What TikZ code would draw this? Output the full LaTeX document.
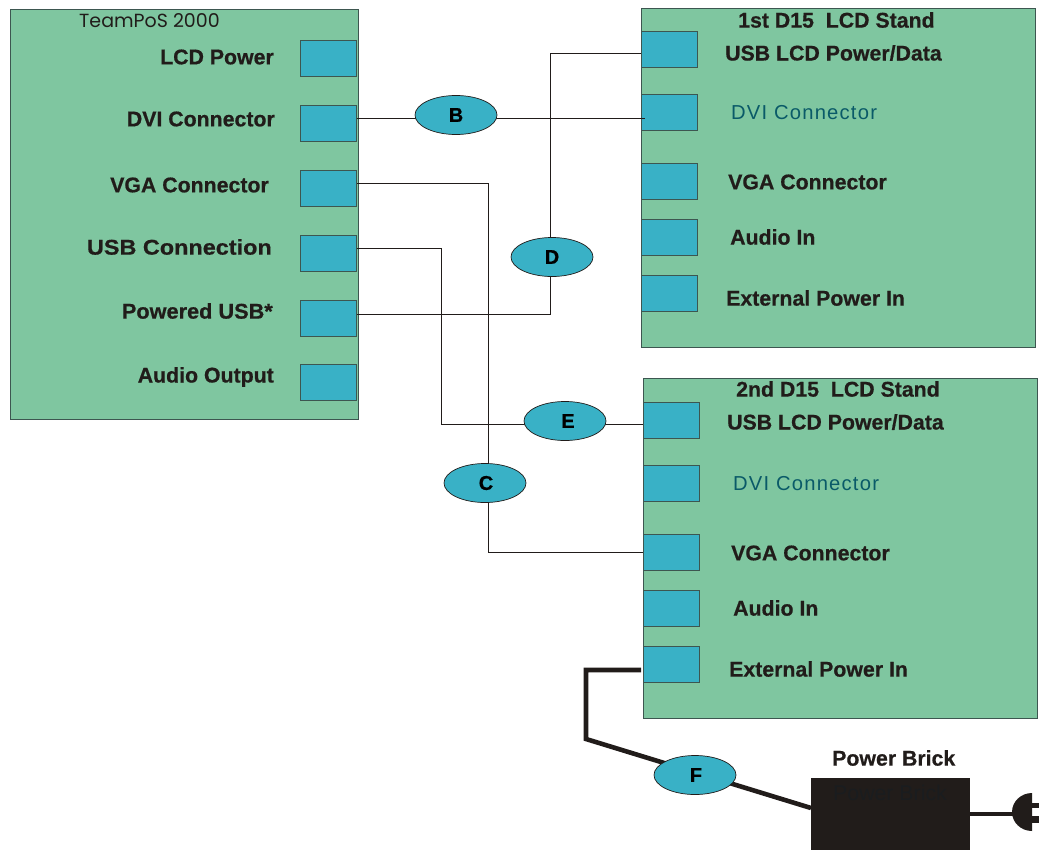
\documentclass[tikz,border=0pt]{standalone}
\usepackage{fontspec}
\setmainfont{Liberation Sans}[BoldFeatures={FakeBold=0.6}]
\newfontfamily\geofont{Poppins}
\newfontfamily\spaced[LetterSpace=6]{Liberation Sans}
\usetikzlibrary{shapes.geometric,calc}
\definecolor{panelgreen}{HTML}{7FC6A0}
\definecolor{portblue}{HTML}{39B1C6}
\definecolor{edgegrey}{HTML}{3D5650}
\definecolor{inkblack}{HTML}{211C1A}
\definecolor{dviteal}{HTML}{0A5A68}
\definecolor{faintink}{HTML}{1A1C1F}
\tikzset{
  panel/.style={draw=edgegrey,line width=0.9pt,fill=panelgreen,rectangle,anchor=north west,inner sep=0pt},
  port/.style={draw=edgegrey,line width=0.8pt,fill=portblue,rectangle,minimum width=56pt,minimum height=36pt,inner sep=0pt},
  oval/.style={draw=inkblack,line width=0.7pt,fill=portblue,ellipse,minimum width=82pt,minimum height=39pt,inner sep=0pt,font=\fontsize{20}{20}\selectfont\bfseries},
  lab/.style={text=inkblack,font=\fontsize{21.3}{21}\selectfont\bfseries,inner sep=0pt},
  thin wire/.style={draw=inkblack,line width=0.7pt},
  thick wire/.style={draw=inkblack,line width=4.6pt,line join=miter},
  dvi/.style={text=dviteal,font=\fontsize{20.2}{20}\selectfont\spaced,inner sep=0pt},
}
\begin{document}
\begin{tikzpicture}[x=1pt,y=-1pt]
\useasboundingbox (0,0) rectangle (1039,849);
% panels
\node[panel,minimum width=348pt,minimum height=409.5pt] (pos) at (10,9) {};
\node[panel,minimum width=394pt,minimum height=339.5pt] (s1) at (640.5,7.5) {};
\node[panel,minimum width=394pt,minimum height=340pt] (s2) at (642.5,378) {};
% TeamPoS ports
\node[port] (p1) at (328.7,58) {};
\node[port] (p2) at (328.7,123) {};
\node[port] (p3) at (328.7,188) {};
\node[port] (p4) at (328.7,253) {};
\node[port] (p5) at (328.7,318) {};
\node[port] (p6) at (328.7,382) {};
% stand 1 ports
\node[port] (a1) at (669,49) {};
\node[port] (a2) at (669,112) {};
\node[port] (a3) at (669,181) {};
\node[port] (a4) at (669,237) {};
\node[port] (a5) at (669,293) {};
% stand 2 ports
\node[port] (b1) at (671.5,420) {};
\node[port] (b2) at (671.5,483) {};
\node[port] (b3) at (671.5,552) {};
\node[port] (b4) at (671.5,608) {};
\node[port] (b5) at (671.5,664) {};
% brick and plug
\node[rectangle,fill=inkblack,draw=inkblack,anchor=north west,minimum width=157.5pt,minimum height=71pt,inner sep=0pt] (brick) at (811,778) {};
\coordinate (bin) at (811,808);
\coordinate (bout) at (969,814);
\coordinate (plug) at (1014,814);
\fill[inkblack] (1032,793) arc[start angle=-90,end angle=-270,x radius=20,y radius=19] -- cycle;
\fill[inkblack] (1030,803) rectangle (1039,808);
\fill[inkblack] (1030,816) rectangle (1039,823);
% ovals positions
\coordinate (oB) at (456,115);
\coordinate (oC) at (485,483);
\coordinate (oD) at (552,257);
\coordinate (oE) at (565,421);
\coordinate (oF) at (695,775);
% wires
\coordinate (p2w) at (357,118);
\coordinate (a2w) at (645,118);
\coordinate (p3w) at (357,183);
\coordinate (p4w) at (357,248);
\coordinate (p5w) at (357,314);
\coordinate (a1w) at (641,53);
\coordinate (b1w) at (643,424);
\coordinate (b3w) at (643,552);
\coordinate (b5w) at (641,670);
\coordinate (k1) at (586,670);
\coordinate (k2) at (586,739);
\coordinate (v1) at (488,183);
\coordinate (v2) at (550,314);
\coordinate (v3) at (441,248);
\draw[thin wire] (p2w) -- (a2w);
\draw[thin wire] (p3w) -- (v1) |- (b3w);
\draw[thin wire] (p5w) -- (v2) |- (a1w);
\draw[thin wire] (p4w) -- (v3) |- (b1w);
\draw[thick wire] (b5w) -- (k1) -- (k2) -- (bin);
\draw[thick wire] (bout) -- (plug);
% ovals
\node[oval] (B) at (oB) {B};
\node[oval] (C) at (oC) {\hspace{2pt}C};
\node[oval] (D) at (oD) {D\hspace{4pt}};
\node[oval] (E) at (oE) {\hspace{6pt}E};
\node[oval] (F) at (oF) {\hspace{2pt}F};
% TeamPoS labels
\node[text=inkblack,font=\fontsize{19}{19}\selectfont\geofont,inner sep=0pt,anchor=west] (tp) at (79,21) {TeamPoS 2000};
\node[lab,anchor=east] (l1) at (274,57) {LCD Power};
\node[lab,anchor=east] (l2) at (275,119) {DVI Connector};
\node[lab,anchor=east] (l3) at (269,185) {VGA Connector};
\node[lab,anchor=east] (l4) at (272,247) {\scalebox{1.1}[1]{USB Connection}};
\node[lab,anchor=east] (l5) at (273,311) {\scalebox{1.02}[1]{Powered USB*}};
\node[lab,anchor=east] (l6) at (274,377) {Audio Output};
% stand 1 labels
\node[lab,anchor=west] (t1) at (738,20) {1st D15\ \ LCD Stand};
\node[lab,anchor=west] (c1) at (725,53) {USB LCD Power/Data};
\node[dvi,anchor=west] (c2) at (731,113) {DVI Connector};
\node[lab,anchor=west] (c3) at (728,182) {VGA Connector};
\node[lab,anchor=west] (c4) at (730,237) {Audio In};
\node[lab,anchor=west] (c5) at (726,298) {External Power In};
% stand 2 labels
\node[lab,anchor=west] (t2) at (736,389) {2nd D15\ \ LCD Stand};
\node[lab,anchor=west] (d1) at (727,422) {USB LCD Power/Data};
\node[dvi,anchor=west] (d2) at (733,484) {DVI Connector};
\node[lab,anchor=west] (d3) at (731,553) {VGA Connector};
\node[lab,anchor=west] (d4) at (733,608) {Audio In};
\node[lab,anchor=west] (d5) at (729,669) {External Power In};
\node[lab,anchor=west] (pb) at (832,758) {Power Brick};
\node[text=faintink,font=\fontsize{21.3}{21}\selectfont,inner sep=0pt,anchor=west] (pb2) at (833,793) {Power Brick};
\end{tikzpicture}
\end{document}
